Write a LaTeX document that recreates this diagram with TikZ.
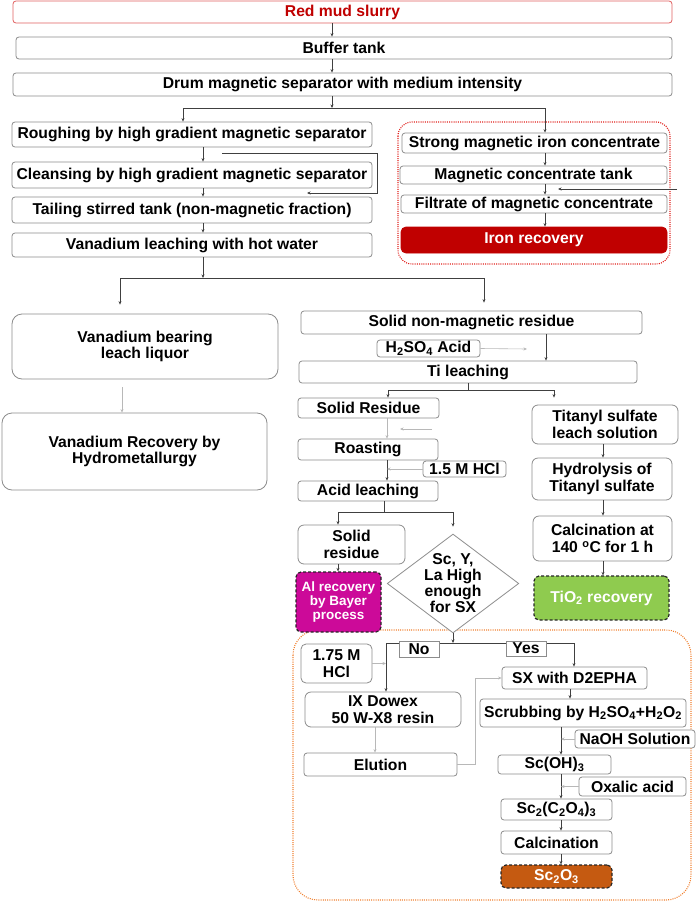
\documentclass[tikz,border=0pt]{standalone}
\usepackage{fontspec}
\setmainfont{Liberation Sans}
\usetikzlibrary{shapes.geometric,arrows.meta}
\definecolor{bgray}{HTML}{8C8C8C}
\definecolor{lgray}{HTML}{B8B8B8}
\definecolor{dgray}{HTML}{404040}
\definecolor{rmred}{HTML}{C00000}
\definecolor{rmborder}{HTML}{E06060}
\definecolor{dotred}{HTML}{E0201C}
\definecolor{dotorange}{HTML}{F08030}
\definecolor{almag}{HTML}{CC0A99}
\definecolor{tigreen}{HTML}{8FCB4F}
\definecolor{scorange}{HTML}{C55A11}
\begin{document}
\begin{tikzpicture}[x=1pt,y=-1pt,
 box/.style={draw=bgray, line width=0.8pt, rounded corners=3pt, fill=white, align=center, inner sep=0pt, font=\bfseries\fontsize{15.7}{16.5}\selectfont},
 sq/.style={box, rounded corners=0pt},
 rbox/.style={box, rounded corners=10pt},
 mbox/.style={box, rounded corners=6pt},
 res/.style={box, draw=black!85, line width=1.2pt, dash pattern=on 3pt off 2pt, text=white, rounded corners=5pt},
 arr/.style={draw=dgray, line width=0.6pt, -{Stealth[length=3.5pt,width=3pt]}},
 larr/.style={arr, draw=lgray},
 ln/.style={draw=dgray, line width=0.6pt},
]
\useasboundingbox (0,0) rectangle (696,907);
% group frames
\draw[dotred, line width=1.1pt, dash pattern=on 1pt off 1.2pt, rounded corners=14pt] (398,122) rectangle (670,264);
\draw[dotorange, line width=1.1pt, dash pattern=on 1pt off 1.2pt, rounded corners=25pt] (293,630) rectangle (691,900);

% top chain
\node[box, draw=rmborder, text=rmred, minimum width=659pt, minimum height=22pt] (red) at (342.5,12) {Red mud slurry};
\node[box, minimum width=656pt, minimum height=22pt] (buf) at (344,48) {Buffer tank};
\node[box, minimum width=659pt, minimum height=23pt] (drum) at (342.5,84.5) {Drum magnetic separator with medium intensity};
% left column
\node[box, minimum width=360pt, minimum height=25pt] (rough) at (192,134.5) {Roughing by high gradient magnetic separator};
\node[box, minimum width=360pt, minimum height=26pt] (cleans) at (192,175) {Cleansing by high gradient magnetic separator};
\node[box, minimum width=360pt, minimum height=26pt] (tail) at (192,210) {Tailing stirred tank (non-magnetic fraction)};
\node[box, minimum width=360pt, minimum height=24pt] (vleach) at (192,245) {Vanadium leaching with hot water};
% iron group
\node[box, minimum width=265pt, minimum height=20pt] (strong) at (534.5,143) {Strong magnetic iron concentrate};
\node[box, minimum width=267pt, minimum height=18pt] (mtank) at (533.5,175) {Magnetic concentrate tank};
\node[box, minimum width=266pt, minimum height=18pt] (filt) at (534,204) {Filtrate of magnetic concentrate};
\node[box, draw=rmred, fill=rmred, text=white, rounded corners=5pt, minimum width=266pt, minimum height=26pt] (iron) at (534,240) {Iron recovery};
% vanadium
\node[rbox, minimum width=266pt, minimum height=65pt] (vbear) at (145,346.5) {Vanadium bearing\\leach liquor};
\node[rbox, minimum width=265pt, minimum height=77pt] (vrec) at (134.5,451.5) {Vanadium Recovery by\\Hydrometallurgy};
% titanium
\node[box, minimum width=341pt, minimum height=23pt] (snm) at (471.5,322.5) {Solid non-magnetic residue};
\node[box, minimum width=103pt, minimum height=17pt] (h2so4) at (428.5,348.5) {H\textsubscript{2}SO\textsubscript{4} Acid};
\node[box, minimum width=338pt, minimum height=22pt] (ti) at (468,372) {Ti leaching};
\node[box, minimum width=141pt, minimum height=20pt] (sres) at (368.5,408) {Solid Residue};
\node[mbox, minimum width=146pt, minimum height=39pt] (titanyl) at (605,424.5) {Titanyl sulfate\\leach solution};
\node[box, minimum width=140pt, minimum height=21pt] (roast) at (368,449.5) {Roasting};
\node[box, minimum width=83pt, minimum height=16pt] (hcl15) at (464.5,469) {1.5 M HCl};
\node[box, minimum width=140pt, minimum height=20pt] (acid) at (368,491) {Acid leaching};
\node[mbox, minimum width=140pt, minimum height=42pt] (hydro) at (602,479) {Hydrolysis of\\Titanyl sulfate};
\node[mbox, minimum width=107pt, minimum height=39pt] (sres2) at (351.5,544.5) {Solid\\residue};
\node[draw=bgray, line width=0.8pt, fill=white, diamond, aspect=1.33, inner sep=-1pt, align=center, font=\bfseries\fontsize{15.7}{16}\selectfont] (dia) at (453,583.5) {Sc, Y,\\La High\\enough\\for SX};
\node[mbox, minimum width=139pt, minimum height=45pt] (calc1) at (602.5,538.5) {Calcination at\\140 \textsuperscript{o}C for 1 h};
\node[res, fill=almag, minimum width=85pt, minimum height=60pt, font=\bfseries\fontsize{13.5}{13.8}\selectfont] (al) at (338.5,602) {Al recovery\\by Bayer\\process};
\node[res, fill=tigreen, minimum width=135pt, minimum height=44pt] (tio2) at (601.5,598) {TiO\textsubscript{2} recovery};
% scandium
\node[mbox, rounded corners=5pt, minimum width=71pt, minimum height=39pt] (hcl175) at (336.5,663.5) {1.75 M\\HCl};
\node[mbox, minimum width=156pt, minimum height=35pt] (ix) at (383,709.5) {IX Dowex\\50 W-X8 resin};
\node[box, minimum width=153pt, minimum height=23pt] (elu) at (380.5,764.5) {Elution};
\node[box, minimum width=145pt, minimum height=22pt] (sx) at (574.5,678) {SX with D2EPHA};
\node[box, minimum width=206pt, minimum height=28pt] (scrub) at (583,713) {Scrubbing by H\textsubscript{2}SO\textsubscript{4}+H\textsubscript{2}O\textsubscript{2}};
\node[box, minimum width=120pt, minimum height=18pt] (naoh) at (635,739) {NaOH Solution};
\node[box, minimum width=113pt, minimum height=19pt] (scoh) at (554.5,764.5) {Sc(OH)\textsubscript{3}};
\node[box, minimum width=107pt, minimum height=19pt] (oxal) at (632.5,786.5) {Oxalic acid};
\node[box, minimum width=111pt, minimum height=21pt] (scc) at (556.5,809.5) {Sc\textsubscript{2}(C\textsubscript{2}O\textsubscript{4})\textsubscript{3}};
\node[box, minimum width=111pt, minimum height=23pt] (calc2) at (556.5,842.5) {Calcination};
\node[res, fill=scorange, minimum width=111pt, minimum height=23pt] (sc2o3) at (556.5,876.5) {Sc\textsubscript{2}O\textsubscript{3}};

% x positions of vertical connectors
\coordinate (xa) at (332,0);
\coordinate (xl) at (183,0);
\coordinate (xr) at (545,0);
\coordinate (xb) at (203,0);
\coordinate (xv) at (120,0);
\coordinate (xv2) at (122,0);
\coordinate (xs) at (484,0);
\coordinate (xt) at (546,0);
\coordinate (x388) at (388,0);
\coordinate (x554) at (554,0);
\coordinate (x387) at (387,0);
\coordinate (x338) at (338,0);
\coordinate (x603) at (603,0);
\coordinate (x386) at (386,0);
\coordinate (x574) at (574,0);
\coordinate (x375) at (375,0);
\coordinate (x475) at (475,0);
\coordinate (x570) at (570,0);
\coordinate (x561) at (561,0);

% top connectors
\draw[arr] (red.south -| xa) -- (buf.north -| xa);
\draw[arr] (buf.south -| xa) -- (drum.north -| xa);
\coordinate (sp1) at (332,108);
\draw[arr] (drum.south -| xa) -- (sp1);
\draw[arr] (sp1) -| (rough.north -| xl);
\draw[arr] (sp1) -| (strong.north -| xr);
\draw[arr] (rough.south -| xb) -- (cleans.north -| xb);
\draw[arr] (cleans.south -| xb) -- (tail.north -| xb);
\draw[arr] (tail.south -| xb) -- (vleach.north -| xb);
\coordinate (lpA) at (222,153);
\coordinate (lpB) at (307,193);
\draw[arr] (lpA) -- ++(155,0) |- (lpB);
\draw[arr] (strong.south -| xr) -- (mtank.north -| xr);
\draw[arr] (mtank.south -| xr) -- (filt.north -| xr);
\draw[arr] (filt.south -| xr) -- (iron.north -| xr);
\coordinate (inA) at (677,189);
\coordinate (inB) at (558,189);
\draw[arr] (inA) -- (inB);

% split to vanadium / titanium
\coordinate (sp2) at (203,278);
\draw[arr] (vleach.south -| xb) -- (sp2);
\draw[arr, shorten >=9pt] (sp2) -| (vbear.north -| xv);
\draw[arr, shorten >=8pt] (sp2) -| (snm.north -| xs);
\draw[larr, shorten <=8pt] (vbear.south -| xv2) -- (vrec.north -| xv2);

% titanium branch
\draw[arr] (snm.south -| xt) -- (ti.north -| xt);
\coordinate (hA) at (527,349);
\draw[larr] (h2so4.east) -- (hA);
\coordinate (sp3) at (468,390);
\draw[ln] (ti.south -| sp3) -- (sp3);
\draw[arr] (sp3) -| (sres.north -| x388);
\draw[arr, shorten >=7pt] (sp3) -| (titanyl.north -| x554);
\draw[larr] (sres.south -| x387) -- (roast.north -| x387);
\coordinate (roA) at (432,429);
\coordinate (roB) at (400,429);
\draw[larr] (roA) -- (roB);
\draw[arr] (roast.south -| x387) -- (acid.north -| x387);
\draw[larr] (hcl15.west) -- (hcl15.west -| x387);
\coordinate (sp4) at (384,512);
\draw[ln] (acid.south -| sp4) -- (sp4);
\draw[arr] (sp4) -| (sres2.north -| x338);
\draw[arr, shorten >=7pt] (sp4) -| (dia.north);
\draw[arr] (sres2.south -| x338) -- (al.north -| x338);
\draw[arr] (titanyl.south -| x603) -- (hydro.north -| x603);
\draw[arr] (hydro.south -| x603) -- (calc1.north -| x603);
\draw[arr] (calc1.south -| x603) -- (tio2.north -| x603);

% scandium branch
\coordinate (sp5) at (453,643);
\draw[arr] (dia.south) -- (sp5);
\draw[arr] (sp5) -| (ix.north -| x386);
\draw[arr] (sp5) -| (sx.north -| x574);
\draw[larr] (hcl175.east) -- (hcl175.east -| x386);
\draw[larr] (ix.south -| x375) -- (elu.north -| x375);
\draw[larr] (elu.east) -| (sx.west -| x475) -- (sx.west);
\draw[arr] (sx.south -| x570) -- (scrub.north -| x570);
\draw[arr] (scrub.south -| x561) -- (scoh.north -| x561);
\draw[larr] (naoh.west) -- (naoh.west -| x561);
\draw[arr] (scoh.south -| x561) -- (scc.north -| x561);
\draw[larr] (oxal.west) -- (oxal.west -| x561);
\draw[arr] (scc.south -| x561) -- (calc2.north -| x561);
\draw[arr] (calc2.south -| x561) -- (sc2o3.north -| x561);

\node[sq, minimum width=40pt, minimum height=16pt] (no) at (419,649) {No};
\node[sq, minimum width=40pt, minimum height=15pt] (yes) at (526,648.5) {Yes};
\end{tikzpicture}
\end{document}
